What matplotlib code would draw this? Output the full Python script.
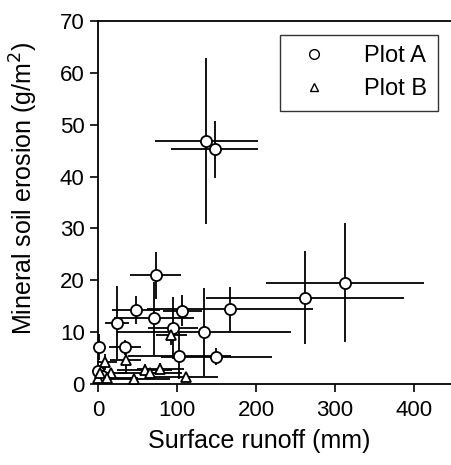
import numpy as np
import matplotlib
matplotlib.use('Agg')
import matplotlib.pyplot as plt
from matplotlib.lines import Line2D

plt.rcParams['font.family'] = ['Liberation Sans', 'DejaVu Sans']

# Plot A (circles): runoff (mm), erosion (g/m2) and their error bars
a_x = [137, 148, 313, 262, 73, 48, 107, 167, 24, 71, 95, 134, 1, 34, 103, 150, 0, 5]
a_y = [46.9, 45.3, 19.5, 16.6, 20.9, 14.2, 14.1, 14.4, 11.8, 12.6, 10.7, 10.0,
       7.1, 7.0, 5.4, 5.2, 2.5, 1.5]
a_xerr = [65, 55, 100, 125, 32, 30, 25, 105, 15, 50, 32, 110, 0, 20, 65, 70, 5, 5]
a_yerr = [16, 5.5, 11.5, 9, 4.6, 2.7, 3, 4.2, 7, 7, 6, 8.5, 2.5, 1.5, 4.5, 1.6, 1, 1]

# Plot B (triangles)
b_x = [9, 35, 59, 79, 66, 17, 0.5, 11, 46, 112, 93, 3]
b_y = [4.2, 4.5, 2.7, 2.9, 2.0, 2.0, 1.0, 1.0, 0.8, 1.3, 9.4, 2.0]
b_xerr = [15, 20, 35, 30, 40, 20, 5, 40, 45, 40, 20, 10]
b_yerr = [1.5, 2.5, 1, 1, 0.8, 0.8, 0.5, 0.5, 0.5, 0.5, 2, 0.8]

fig = plt.figure(figsize=(4.51, 4.65), dpi=100)
ax = fig.add_axes([0.217, 0.175, 0.789, 0.779])

ax.errorbar(a_x, a_y, xerr=a_xerr, yerr=a_yerr, fmt='none', ecolor='black',
            elinewidth=1.3, capsize=0, zorder=2)
ax.errorbar(b_x, b_y, xerr=b_xerr, yerr=b_yerr, fmt='none', ecolor='black',
            elinewidth=1.3, capsize=0, zorder=2)
ax.plot(a_x, a_y, 'o', ms=8, mfc='white', mec='black', mew=1.3, zorder=3, clip_on=False)
ax.plot(b_x, b_y, '^', ms=7, mfc='white', mec='black', mew=1.3, zorder=3, clip_on=False)

ax.set_xlim(0, 450)
ax.set_ylim(0, 70)
ax.set_xticks([0, 100, 200, 300, 400])
ax.set_yticks(np.arange(0, 71, 10))
ax.tick_params(direction='out', length=6, width=1.2, labelsize=16)
ax.tick_params(axis='x', pad=6)
for s in ax.spines.values():
    s.set_linewidth(1.3)

ax.set_xlabel('Surface runoff (mm)', fontsize=18)
ax.set_ylabel('Mineral soil erosion (g/m$^2$)', fontsize=18)
ax.xaxis.set_label_coords(0.453, -0.125)
ax.yaxis.set_label_coords(-0.163, 0.54)

handles = [Line2D([], [], ls='none', marker='o', ms=7, mfc='white', mec='black', mew=1),
           Line2D([], [], ls='none', marker='^', ms=6, mfc='white', mec='black', mew=1)]
leg = ax.legend(handles, ['Plot A', 'Plot B'], loc='upper right',
                bbox_to_anchor=(0.955, 0.963), fontsize=17, frameon=True,
                fancybox=False, edgecolor='black', handletextpad=1.1,
                borderpad=0.45, labelspacing=0.45, borderaxespad=0)
leg.get_frame().set_linewidth(1.0)

fig.savefig('out.png', dpi=100)
